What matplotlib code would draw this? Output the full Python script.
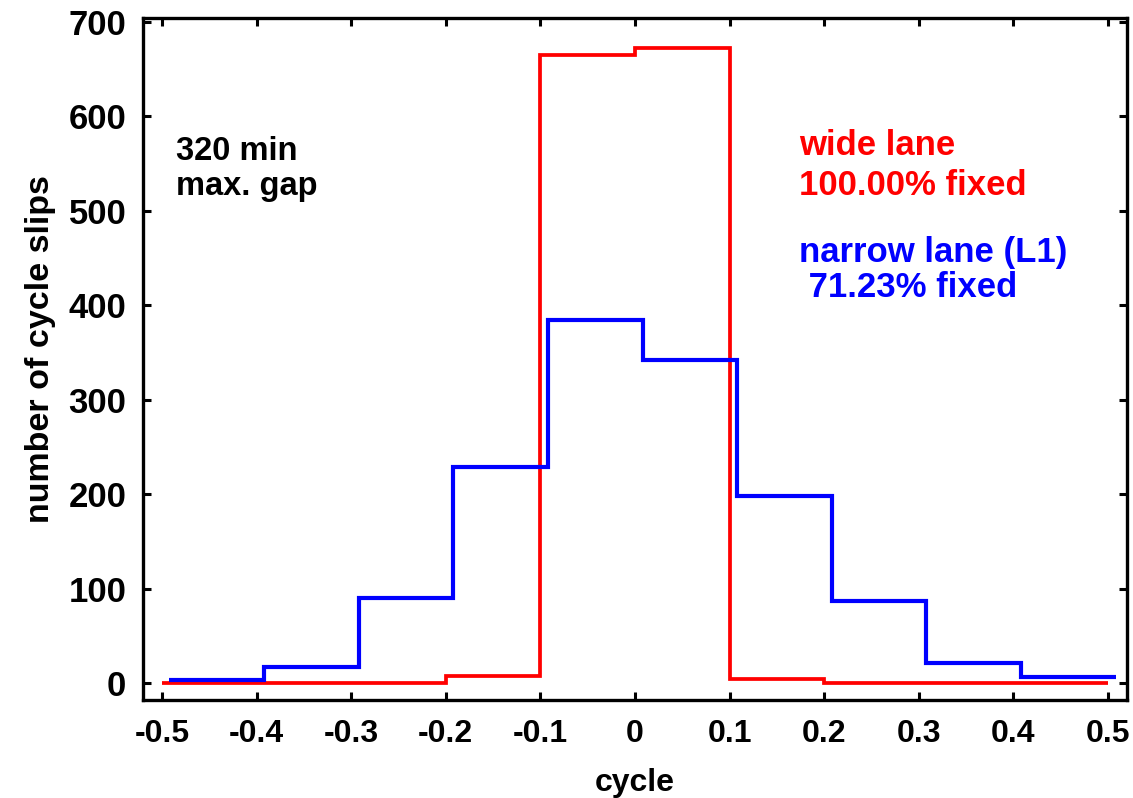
import numpy as np
import matplotlib
matplotlib.use("Agg")
import matplotlib.pyplot as plt

plt.rcParams['font.family'] = ['Liberation Sans', 'DejaVu Sans']
plt.rcParams['font.weight'] = 'bold'

# wide lane histogram (bin edges -0.5 .. 0.5)
wide_edges = [-0.5, -0.4, -0.3, -0.2, -0.1, 0.0, 0.1, 0.2, 0.3, 0.4, 0.5]
wide_counts = [0, 0, 0, 8, 665, 672, 5, 0, 0, 0]

# narrow lane (L1) histogram, bins slightly shifted
narrow_edges = [-0.492, -0.392, -0.292, -0.192, -0.092, 0.008, 0.108, 0.208, 0.308, 0.408, 0.508]
narrow_counts = [4, 17, 90, 229, 385, 342, 198, 87, 22, 7]

xticks = [-0.5, -0.4, -0.3, -0.2, -0.1, 0, 0.1, 0.2, 0.3, 0.4, 0.5]
xticklabels = ['-0.5', '-0.4', '-0.3', '-0.2', '-0.1', '0', '0.1', '0.2', '0.3', '0.4', '0.5']
yticks = [0, 100, 200, 300, 400, 500, 600, 700]

fig = plt.figure(figsize=(11.33, 7.98), dpi=100)
ax = fig.add_axes([0.1262, 0.1228, 0.8685, 0.8546])

ax.stairs(wide_counts, wide_edges, baseline=None, color='#ff0000', lw=2.7)
ax.stairs(narrow_counts, narrow_edges, baseline=None, color='#0000ff', lw=3.0)

ax.set_xlim(-0.52, 0.52)
ax.set_ylim(-17.6, 704)
ax.set_xticks(xticks)
ax.set_xticklabels(xticklabels)
ax.set_yticks(yticks)

for s in ax.spines.values():
    s.set_linewidth(2.4)
ax.tick_params(direction='in', length=6, width=2.2, top=True, right=True,
               labelsize=23)
ax.tick_params(axis='x', pad=13.5)
ax.tick_params(axis='y', pad=12, labelsize=25)

ax.set_xlabel('cycle', fontsize=23, fontweight='bold', labelpad=14)
ax.set_ylabel('number of cycle slips', fontsize=24.5, fontweight='bold')
ax.yaxis.set_label_coords(-0.088, 0.515)


def px(x, y):
    # pixel (from top-left) to figure fraction
    return x / 1133, 1 - y / 798

fig.text(*px(176, 160), '320 min', fontsize=23.5, color='black', va='baseline')
fig.text(*px(176, 195), 'max. gap', fontsize=23.5, color='black', va='baseline')
fig.text(*px(799, 155), 'wide lane', fontsize=25, color='#ff0000', va='baseline')
fig.text(*px(799, 195), '100.00% fixed', fontsize=25, color='#ff0000', va='baseline')
fig.text(*px(799, 262), 'narrow lane (L1)', fontsize=25, color='#0000ff', va='baseline')
fig.text(*px(799, 297), ' 71.23% fixed', fontsize=25, color='#0000ff', va='baseline')

fig.savefig('out.png', dpi=100)
